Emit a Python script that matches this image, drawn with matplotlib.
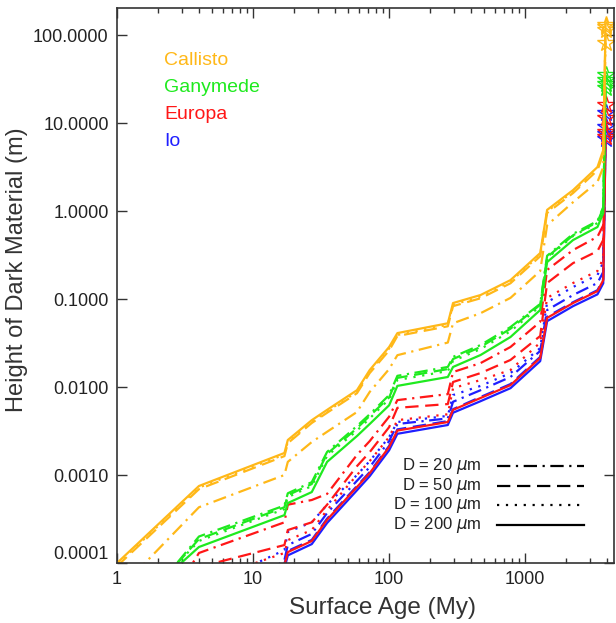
import matplotlib.pyplot as plt
from matplotlib.lines import Line2D
from matplotlib.ticker import NullLocator

# surface age grid (My)
age = [1, 4, 17, 18, 27, 35, 58, 72, 100, 115, 270, 295, 470, 780, 1290, 1450, 2250, 3400, 3750, 3900]

# height of dark material (m) for grain size D = 20, 50, 100, 200 um
callisto_20 = [4.7e-5, 4.3e-4, 1.0e-3, 1.41e-3, 2.37e-3, 3.1e-3, 5.2e-3, 8.8e-3, 1.6e-2, 2.3e-2,
               3.2e-2, 5.3e-2, 6.9e-2, 0.103, 0.208, 0.69, 1.26, 2.14, 3.16, 81]
callisto_50 = [9.2e-5, 6.9e-4, 1.64e-3, 2.3e-3, 3.9e-3, 5.1e-3, 8.5e-3, 1.44e-2, 2.6e-2, 3.8e-2,
               4.9e-2, 8.3e-2, 0.102, 0.151, 0.306, 0.95, 1.6, 2.9, 4.5, 114]
callisto_100 = [9.6e-5, 7.2e-4, 1.71e-3, 2.4e-3, 4.0e-3, 5.3e-3, 8.8e-3, 1.5e-2, 2.74e-2, 3.9e-2,
                5.1e-2, 8.6e-2, 0.107, 0.157, 0.32, 0.99, 1.66, 3.03, 4.7, 122]
callisto_200 = [1.0e-4, 7.5e-4, 1.78e-3, 2.5e-3, 4.2e-3, 5.5e-3, 9.2e-3, 1.56e-2, 2.85e-2, 4.1e-2,
                5.3e-2, 9.0e-2, 0.111, 0.164, 0.333, 1.03, 1.73, 3.16, 4.93, 130]

ganymede_20 = [1.5e-5, 2.0e-4, 4.5e-4, 6.2e-4, 8.3e-4, 1.83e-3, 3.6e-3, 4.9e-3, 8.1e-3, 1.34e-2,
               1.69e-2, 2.2e-2, 3.0e-2, 4.8e-2, 8.8e-2, 0.31, 0.55, 0.77, 1.11, 35]
ganymede_50 = [1.7e-5, 1.87e-4, 4.3e-4, 5.9e-4, 7.9e-4, 1.74e-3, 3.4e-3, 4.7e-3, 7.6e-3, 1.27e-2,
               1.6e-2, 2.08e-2, 2.85e-2, 4.6e-2, 8.6e-2, 0.30, 0.53, 0.75, 1.08, 30.8]
ganymede_100 = [1.9e-5, 1.78e-4, 4.1e-4, 5.6e-4, 7.5e-4, 1.65e-3, 3.2e-3, 4.4e-3, 7.3e-3, 1.2e-2,
                1.52e-2, 1.98e-2, 2.7e-2, 4.3e-2, 8.3e-2, 0.29, 0.52, 0.73, 1.05, 28]
ganymede_200 = [2.2e-5, 1.52e-4, 3.5e-4, 4.8e-4, 6.4e-4, 1.41e-3, 2.77e-3, 3.8e-3, 6.2e-3, 1.03e-2,
                1.3e-2, 1.69e-2, 2.31e-2, 3.7e-2, 7.5e-2, 0.263, 0.468, 0.658, 0.95, 25]

europa_20 = [4e-6, 1.3e-4, 2.9e-4, 4.6e-4, 5.2e-4, 6.1e-4, 1.69e-3, 2.43e-3, 4.6e-3, 7.1e-3,
             8.3e-3, 1.48e-2, 1.87e-2, 2.85e-2, 5.5e-2, 0.214, 0.36, 0.51, 0.69, 16]
europa_50 = [1e-5, 9e-5, 1.6e-4, 2.37e-4, 2.9e-4, 4.6e-4, 1.26e-3, 1.82e-3, 3.5e-3, 5.8e-3,
             6.4e-3, 1.14e-2, 1.44e-2, 2.03e-2, 3.8e-2, 0.152, 0.256, 0.35, 0.47, 11.4]
europa_100 = [1e-6, 6e-5, 1.3e-4, 1.82e-4, 2.37e-4, 4.0e-4, 1.0e-3, 1.44e-3, 2.7e-3, 4.2e-3,
              4.9e-3, 9.7e-3, 1.2e-2, 1.56e-2, 3.2e-2, 0.103, 0.152, 0.208, 0.29, 7.9]
europa_200 = [1e-6, 1e-5, 9.5e-5, 1.33e-4, 1.78e-4, 3.1e-4, 7.3e-4, 1.05e-3, 2.08e-3, 3.2e-3,
              4.0e-3, 5.5e-3, 7.5e-3, 1.05e-2, 2.14e-2, 6.1e-2, 9.0e-2, 0.123, 0.164, 6.9]

io_20 = [1e-6, 2e-5, 1.08e-4, 1.6e-4, 2.14e-4, 3.7e-4, 8.6e-4, 1.23e-3, 2.43e-3, 3.8e-3,
         4.4e-3, 6.8e-3, 9.2e-3, 1.3e-2, 2.57e-2, 7.5e-2, 0.111, 0.152, 0.203, 9.0]
io_50 = [1e-6, 1e-5, 9.8e-5, 1.37e-4, 1.83e-4, 3.2e-4, 7.5e-4, 1.08e-3, 2.14e-3, 3.3e-3,
         4.1e-3, 5.6e-3, 7.7e-3, 1.08e-2, 2.2e-2, 6.3e-2, 9.2e-2, 0.126, 0.168, 7.5]
io_100 = [1e-6, 5e-5, 1.4e-4, 2.25e-4, 2.9e-4, 4.6e-4, 1.0e-3, 1.44e-3, 2.7e-3, 4.0e-3,
          4.7e-3, 8.1e-3, 1.03e-2, 1.44e-2, 2.77e-2, 9.2e-2, 0.137, 0.187, 0.263, 13]
io_200 = [1e-6, 9e-6, 8.7e-5, 1.22e-4, 1.64e-4, 2.85e-4, 6.7e-4, 9.7e-4, 1.91e-3, 2.94e-3,
          3.7e-3, 5.1e-3, 6.9e-3, 9.7e-3, 1.97e-2, 5.6e-2, 8.3e-2, 0.113, 0.151, 6.6]

moons = ['Callisto', 'Ganymede', 'Europa', 'Io']
grain_sizes = [20, 50, 100, 200]
heights = {
    'Callisto': [callisto_20, callisto_50, callisto_100, callisto_200],
    'Ganymede': [ganymede_20, ganymede_50, ganymede_100, ganymede_200],
    'Europa': [europa_20, europa_50, europa_100, europa_200],
    'Io': [io_20, io_50, io_100, io_200],
}
yticks = [1e-4, 1e-3, 1e-2, 1e-1, 1, 10, 100]
xticks = [1, 10, 100, 1000]

colors = {'Callisto': '#ffb818', 'Ganymede': '#1fea1f', 'Europa': '#ff1717', 'Io': '#1f1fff'}
styles = [(0, (6, 2.5, 1, 2.5)), (0, (6, 3)), (0, (1, 3)), '-']

plt.rcParams['font.family'] = ['Liberation Sans', 'DejaVu Sans']
axcol = '#333333'

fig = plt.figure(figsize=(6.16, 6.23), dpi=100)
ax = fig.add_axes([0.19, 0.0963, 0.8068, 0.8909])

# Io first so Callisto ends up on top
for moon in moons[::-1]:
    for ls, h in zip(styles, heights[moon]):
        ax.plot(age, h, color=colors[moon], ls=ls, lw=1.6,
                marker='*', markevery=[len(age) - 1], ms=13,
                mfc='none', mec=colors[moon], mew=1.0)

ax.set_xscale('log')
ax.set_yscale('log')
ax.set_xlim(1, 4500)
ax.set_ylim(1e-4, 203)

ax.set_yticks(yticks)
ax.set_yticklabels(['%.4f' % v for v in yticks])
ax.yaxis.set_minor_locator(NullLocator())
ax.set_xticks(xticks)
ax.set_xticklabels([str(v) for v in xticks])

ax.tick_params(which='both', direction='in', top=True, right=True,
               color=axcol, labelcolor='#222222', labelsize=13, pad=6, width=1)
ax.tick_params(which='major', length=7)
ax.tick_params(which='minor', length=3.6)
for s in ax.spines.values():
    s.set_color(axcol)
    s.set_linewidth(1.2)

# bottom label sits a bit above its tick, as in the original
ax.get_yticklabels()[0].set_va('bottom')

ax.set_xlabel('Surface Age (My)', fontsize=17.5, color='#333333')
ax.set_ylabel('Height of Dark Material (m)', fontsize=17, color='#333333')
ax.xaxis.set_label_coords(0.535, -0.062)
ax.yaxis.set_label_coords(-0.18, 0.528)

# moon names
for i, moon in enumerate(moons):
    ax.text(0.0946, 0.906 - i * 0.049, moon, color=colors[moon], fontsize=14,
            va='center', ha='left', transform=ax.transAxes)

# grain size key
for i, (d, ls) in enumerate(zip(grain_sizes, styles)):
    y = 0.1748 - i * 0.0355
    ax.text(0.734, y, r'D = %d $\mu$m' % d, fontsize=12, color='#222222',
            ha='right', va='center', transform=ax.transAxes)
    ax.add_line(Line2D([0.765, 0.940], [y, y], color='black', ls=ls, lw=1.6,
                       transform=ax.transAxes))

fig.savefig('out.png', dpi=100)
